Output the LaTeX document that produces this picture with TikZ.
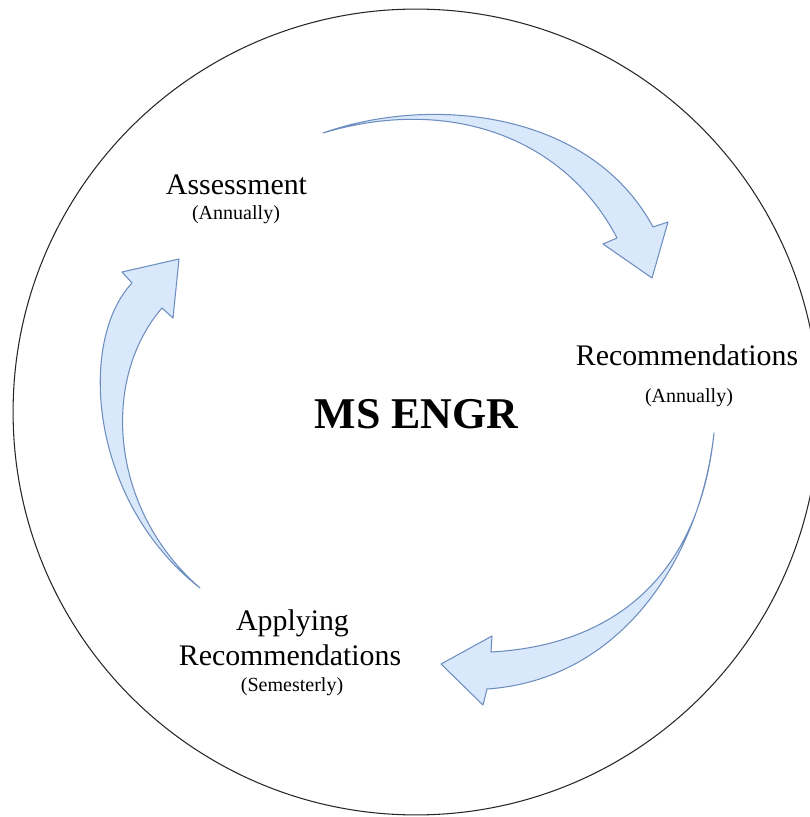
\documentclass[tikz,border=0pt]{standalone}
\usepackage{fontspec}
\setmainfont{Liberation Serif}
\usetikzlibrary{positioning}
\definecolor{arrowfill}{HTML}{DAE8FC}
\definecolor{arrowline}{HTML}{6C8EBF}

\begin{document}
\begin{tikzpicture}[
  x=0.02cm, y=-0.02cm,
  stage/.style={anchor=base, inner sep=0pt, font=\fontsize{17}{20}\selectfont},
  freq/.style={anchor=base, inner sep=0pt, font=\fontsize{11.4}{13}\selectfont},
  bigarrow/.style={draw=arrowline, fill=arrowfill, line width=0.6pt, line join=round}
]
  \useasboundingbox (0,0) rectangle (810,817);
  \draw[black!85, line width=0.6pt] (416,412) circle[radius=8.06cm];
  \node[anchor=base, inner sep=0pt, font=\bfseries\fontsize{25}{30}\selectfont] (hub) at (416.5,428) {MS ENGR};
  \node[stage] (assess) at (236.5,195) {Assessment};
  \node[freq] (assessfreq) at (236,220) {(Annually)};
  \node[stage] (recom) at (687,365) {Recommendations};
  \node[freq] (recomfreq) at (689,402) {(Annually)};
  \node[stage] (apply) at (292.5,630) {Applying};
  \node[stage] (applyrec) at (290,665) {Recommendations};
  \node[freq] (applyfreq) at (292,691) {(Semesterly)};
  % curved block arrows
  \draw[bigarrow] (323,133) .. controls (430,95) and (590,110) .. (653,227)
    -- (668,222) -- (652,278) -- (603,244) -- (617,238)
    .. controls (565,138) and (450,95) .. (323,133) -- cycle;
  \draw[bigarrow] (714,433) .. controls (700,560) and (620,680) .. (487,689)
    -- (483,705) -- (441,664) -- (492,636) -- (491,652)
    .. controls (620,645) and (700,570) .. (714,433) -- cycle;
  \draw[bigarrow] (200,588) .. controls (88,500) and (78,340) .. (132,283)
    -- (122,272) -- (179,259) -- (173,318) -- (162,308)
    .. controls (100,380) and (110,510) .. (200,588) -- cycle;
\end{tikzpicture}
\end{document}
